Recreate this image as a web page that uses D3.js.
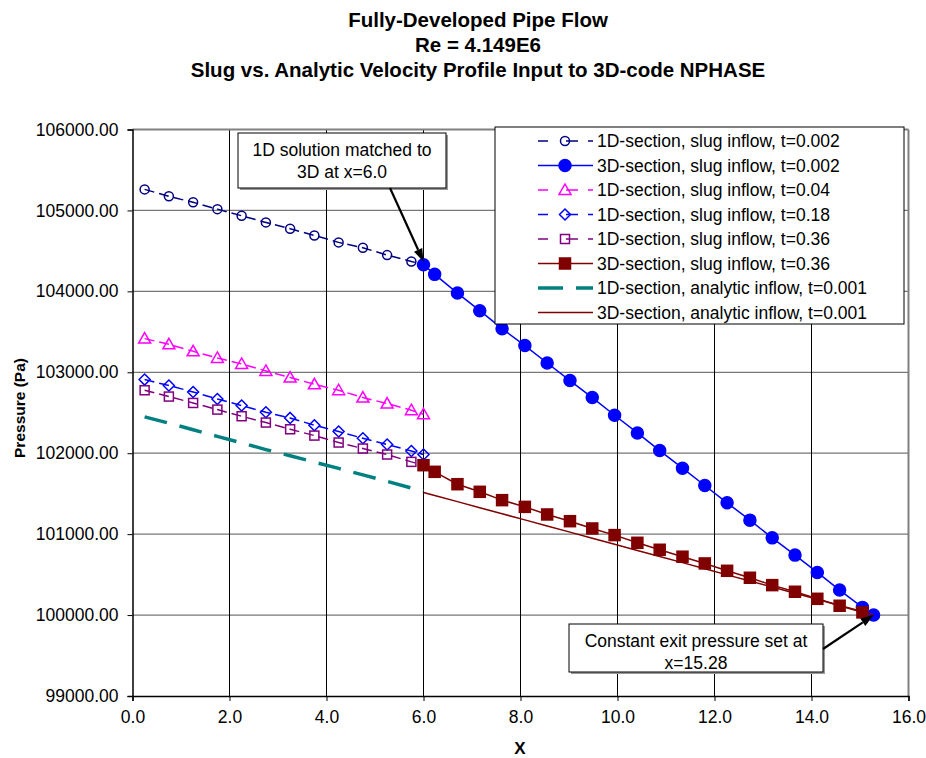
<!DOCTYPE html>
<html>
<head>
<meta charset="utf-8">
<script src="https://cdn.jsdelivr.net/npm/d3@7.9.0/dist/d3.min.js"></script>
<style>
  body { margin: 0; background: #fff; }
  svg { font-family: "Liberation Sans", Arial, sans-serif; }
</style>
</head>
<body>
<svg id="chart" width="926" height="758"></svg>
<script>
// x positions of the 1D cells and of the 3D cells
const x1D = [0.25, 0.75, 1.25, 1.75, 2.25, 2.75, 3.25, 3.75, 4.25, 4.75, 5.25, 5.75, 6.0];
const x3D = [6.0, 6.23, 6.70, 7.16, 7.62, 8.09, 8.55, 9.02, 9.48, 9.94, 10.41, 10.87,
  11.34, 11.80, 12.26, 12.73, 13.19, 13.66, 14.12, 14.58, 15.05, 15.28];

// pressure values (Pa)
const p1D_slug002 = [105260, 105175, 105100, 105016, 104934, 104852, 104774, 104691, 104605, 104539, 104448, 104370, 104330];
const p3D_slug002 = [104330, 104210, 103979, 103761, 103539, 103330, 103115, 102898, 102688, 102469, 102251,
  102033, 101815, 101601, 101387, 101173, 100954, 100741, 100527, 100309, 100095, 100000];
const p1D_slug004 = [103416, 103346, 103259, 103177, 103103, 103017, 102935, 102852, 102778, 102688, 102614, 102531, 102481];
const p1D_slug018 = [102910, 102836, 102757, 102670, 102589, 102506, 102436, 102346, 102268, 102185, 102107, 102028, 101984];
const p1D_slug036 = [102778, 102700, 102621, 102539, 102457, 102379, 102296, 102218, 102132, 102058, 101984, 101893, 101852];
const p3D_slug036 = [101852, 101770, 101617, 101523, 101420, 101337, 101243, 101160, 101070, 100988, 100893,
  100807, 100721, 100638, 100547, 100461, 100370, 100288, 100201, 100115, 100033];
const p1D_analytic = [102449, 102372, 102290, 102208, 102128, 102045, 101968, 101890, 101812, 101732, 101652, 101570, 101535];
const p3D_analytic = [101515, 101478, 101402, 101327, 101252, 101176, 101101, 101025, 100950, 100874, 100799,
  100723, 100648, 100572, 100497, 100421, 100346, 100270, 100195, 100119, 100044, 100000];

const xTicks = [0, 2, 4, 6, 8, 10, 12, 14, 16];
const yTicks = [99000, 100000, 101000, 102000, 103000, 104000, 105000, 106000];

const titleLines = ['Fully-Developed Pipe Flow', 'Re = 4.149E6',
  'Slug vs. Analytic Velocity Profile Input to 3D-code NPHASE'];

// series definitions (style + which arrays)
const series = [
  { name: '1D-section, slug inflow, t=0.002', xs: x1D, ys: p1D_slug002, color: '#000080', dash: '10,5', width: 1.5, marker: 'circle', fill: 'none', size: 4.5 },
  { name: '3D-section, slug inflow, t=0.002', xs: x3D, ys: p3D_slug002, color: '#0000FF', dash: null, width: 1.5, marker: 'circle', fill: '#0000FF', size: 6 },
  { name: '1D-section, slug inflow, t=0.04', xs: x1D, ys: p1D_slug004, color: '#FF00FF', dash: '10,5', width: 1.5, marker: 'triangle', fill: 'none', size: 6 },
  { name: '1D-section, slug inflow, t=0.18', xs: x1D, ys: p1D_slug018, color: '#0000FF', dash: '10,5', width: 1.5, marker: 'diamond', fill: 'none', size: 5.5 },
  { name: '1D-section, slug inflow, t=0.36', xs: x1D, ys: p1D_slug036, color: '#800080', dash: '10,5', width: 1.5, marker: 'square', fill: 'none', size: 4.5 },
  { name: '3D-section, slug inflow, t=0.36', xs: x3D.slice(0, 21), ys: p3D_slug036, color: '#800000', dash: null, width: 1.5, marker: 'square', fill: '#800000', size: 5.5 },
  { name: '1D-section, analytic inflow, t=0.001', xs: x1D, ys: p1D_analytic, color: '#008080', dash: '23,13', width: 3.5, marker: null },
  { name: '3D-section, analytic inflow, t=0.001', xs: x3D, ys: p3D_analytic, color: '#800000', dash: null, width: 1.5, marker: null }
];

const svg = d3.select('#chart');
const plotLeft = 132.5, plotRight = 908.5, plotTop = 129.5, plotBottom = 696;

const x = d3.scaleLinear().domain([0, 16]).range([plotLeft, plotRight]);
const y = d3.scaleLinear().domain([99000, 106000]).range([plotBottom, plotTop]);

// title
svg.append('g').selectAll('text').data(titleLines).join('text')
  .attr('x', 478).attr('y', (d, i) => 26.5 + i * 25.2)
  .attr('text-anchor', 'middle')
  .attr('font-weight', 'bold').attr('font-size', 20.5)
  .text(d => d);

// gridlines
svg.append('g').selectAll('line').data(yTicks.slice(1, -1)).join('line')
  .attr('x1', plotLeft).attr('x2', plotRight)
  .attr('y1', d => y(d)).attr('y2', d => y(d))
  .attr('stroke', '#777').attr('stroke-width', 1.2);
svg.append('g').selectAll('line').data(xTicks.slice(1, -1)).join('line')
  .attr('x1', d => x(d)).attr('x2', d => x(d))
  .attr('y1', plotTop).attr('y2', plotBottom)
  .attr('stroke', '#000').attr('stroke-width', 1);

// frame: gray top/right, black axes
svg.append('line').attr('x1', plotLeft).attr('x2', plotRight).attr('y1', plotTop).attr('y2', plotTop)
  .attr('stroke', '#808080').attr('stroke-width', 2);
svg.append('line').attr('x1', plotRight).attr('x2', plotRight).attr('y1', plotTop).attr('y2', plotBottom)
  .attr('stroke', '#808080').attr('stroke-width', 2);

// axes
const xAxis = d3.axisBottom(x).tickValues(xTicks).tickFormat(d3.format('.1f')).tickSize(5).tickPadding(10);
const yAxis = d3.axisLeft(y).tickValues(yTicks).tickFormat(d3.format('.2f')).tickSize(5).tickPadding(9);

const gx = svg.append('g').attr('transform', `translate(0,${plotBottom})`).call(xAxis);
const gy = svg.append('g').attr('transform', `translate(${plotLeft},0)`).call(yAxis);
[gx, gy].forEach(g => {
  g.select('.domain').attr('stroke', '#000').attr('stroke-width', 1.5);
  g.selectAll('.tick line').attr('stroke', '#000');
  g.selectAll('.tick text').attr('font-size', 17.5).attr('fill', '#000')
    .attr('font-family', '"Liberation Sans", Arial, sans-serif');
});

// axis titles
svg.append('text').attr('x', 520).attr('y', 754).attr('text-anchor', 'middle')
  .attr('font-weight', 'bold').attr('font-size', 17).text('X');
svg.append('text').attr('transform', 'translate(25,408) rotate(-90)').attr('text-anchor', 'middle')
  .attr('font-weight', 'bold').attr('font-size', 15.5).text('Pressure (Pa)');

// marker helper
function drawMarker(g, s, cx, cy) {
  const r = s.size;
  let m;
  if (s.marker === 'circle') {
    m = g.append('circle').attr('cx', cx).attr('cy', cy).attr('r', r);
  } else if (s.marker === 'square') {
    m = g.append('rect').attr('x', cx - r).attr('y', cy - r).attr('width', 2 * r).attr('height', 2 * r);
  } else if (s.marker === 'triangle') {
    m = g.append('path').attr('d', `M${cx},${cy - r}L${cx + r},${cy + r * 0.75}L${cx - r},${cy + r * 0.75}Z`);
  } else if (s.marker === 'diamond') {
    m = g.append('path').attr('d', `M${cx},${cy - r}L${cx + r},${cy}L${cx},${cy + r}L${cx - r},${cy}Z`);
  }
  m.attr('fill', s.fill).attr('stroke', s.color).attr('stroke-width', 1.5);
}

// series
const line = d3.line().x(d => x(d[0])).y(d => y(d[1]));
series.forEach(s => {
  const pts = s.xs.map((v, i) => [v, s.ys[i]]);
  const g = svg.append('g');
  g.append('path').attr('d', line(pts))
    .attr('fill', 'none').attr('stroke', s.color).attr('stroke-width', s.width)
    .attr('stroke-dasharray', s.dash);
  if (s.marker) pts.forEach(p => drawMarker(g, s, x(p[0]), y(p[1])));
});

// legend
const lg = svg.append('g');
lg.append('rect').attr('x', 495).attr('y', 127).attr('width', 409).attr('height', 197)
  .attr('fill', '#fff').attr('stroke', '#000').attr('stroke-width', 1);
series.forEach((s, i) => {
  const cy = 141 + i * 24.5;
  lg.append('line').attr('x1', 538).attr('x2', 593).attr('y1', cy).attr('y2', cy)
    .attr('stroke', s.color).attr('stroke-width', s.width)
    .attr('stroke-dasharray', s.marker === null && s.dash ? '25,13' : (s.dash ? '10,18,12' : null));
  if (s.marker) drawMarker(lg, s, 565, cy);
  lg.append('text').attr('x', 597).attr('y', cy).attr('dy', '0.35em')
    .attr('font-size', 17.5).text(s.name);
});

// annotations
function callout(bx, by, bw, bh, lines, from, to) {
  const g = svg.append('g');
  g.append('rect').attr('x', bx + 2).attr('y', by + 2).attr('width', bw).attr('height', bh).attr('fill', '#999');
  g.append('rect').attr('x', bx).attr('y', by).attr('width', bw).attr('height', bh)
    .attr('fill', '#fff').attr('stroke', '#000').attr('stroke-width', 1);
  lines.forEach((t, i) => {
    g.append('text').attr('x', bx + bw / 2).attr('y', by + 17 + i * 21.5).attr('dy', '0.35em')
      .attr('text-anchor', 'middle').attr('font-size', 17.5).text(t);
  });
  const ang = Math.atan2(to[1] - from[1], to[0] - from[0]);
  const hl = 13, hw = 4.5;
  const bxp = to[0] - hl * Math.cos(ang), byp = to[1] - hl * Math.sin(ang);
  g.append('line').attr('x1', from[0]).attr('y1', from[1]).attr('x2', bxp).attr('y2', byp)
    .attr('stroke', '#000').attr('stroke-width', 2.2);
  g.append('path').attr('d', `M${to[0]},${to[1]}L${bxp + hw * Math.sin(ang)},${byp - hw * Math.cos(ang)}L${bxp - hw * Math.sin(ang)},${byp + hw * Math.cos(ang)}Z`)
    .attr('fill', '#000');
}
callout(238, 133, 208, 55, ['1D solution matched to', '3D at x=6.0'],
  [390, 188], [x(x3D[0]), y(p3D_slug002[0]) - 3]);
callout(569, 624, 254, 48, ['Constant exit pressure set at', 'x=15.28'],
  [823, 649], [x(x3D[x3D.length - 1]), y(p3D_slug002[p3D_slug002.length - 1])]);
</script>
</body>
</html>
